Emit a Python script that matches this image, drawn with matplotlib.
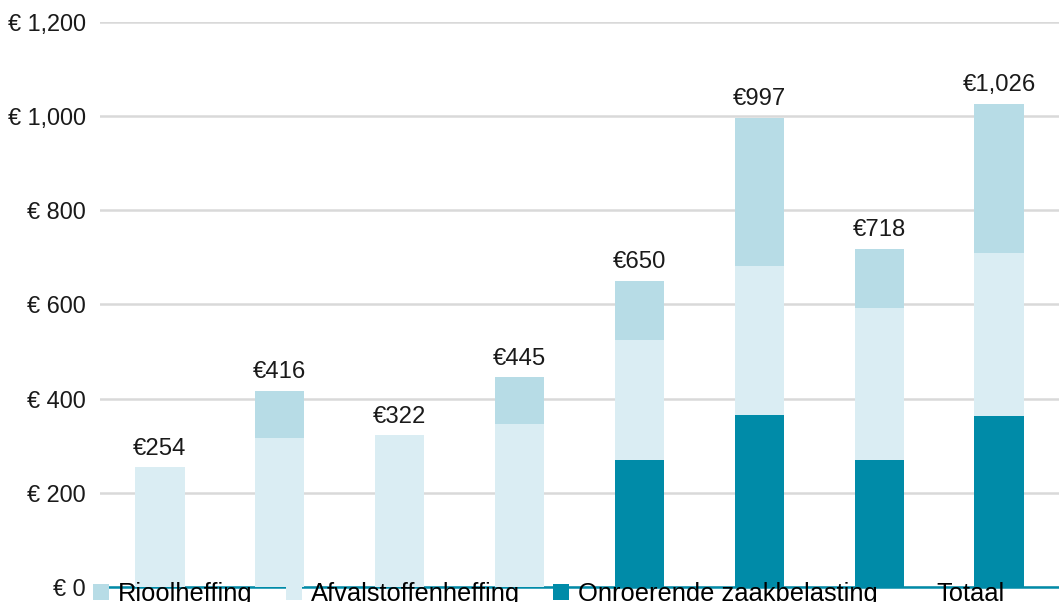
import matplotlib
matplotlib.use("Agg")
import matplotlib.pyplot as plt
from matplotlib.patches import Patch
from matplotlib.ticker import FuncFormatter

plt.rcParams['font.family'] = ['Liberation Sans', 'DejaVu Sans']

categories = ["", "", "", "", "", "", "", ""]
ozb = [0, 0, 0, 0, 270, 365, 270, 363]
afval = [254, 316, 322, 346, 254, 316, 322, 347]
riool = [0, 100, 0, 99, 126, 316, 126, 316]
totals = [254, 416, 322, 445, 650, 997, 718, 1026]
yticks = [0, 200, 400, 600, 800, 1000, 1200]

c_riool = "#b7dce6"
c_afval = "#daedf3"
c_ozb = "#008ba8"

W, H = 1059, 602
fig = plt.figure(figsize=(W / 100, H / 100), dpi=100)
ax = fig.add_axes([100 / W, 15 / H, 1 - 100 / W, (587 - 22) / H])

x = list(range(len(categories)))
bw = 0.41
ax.bar(x, ozb, width=bw, color=c_ozb, zorder=2)
ax.bar(x, afval, width=bw, bottom=ozb, color=c_afval, zorder=2)
bot2 = [a + b for a, b in zip(ozb, afval)]
ax.bar(x, riool, width=bw, bottom=bot2, color=c_riool, zorder=2)

for xi, t in zip(x, totals):
    ax.annotate(f"€{t:,}", (xi, t), xytext=(0, 5.5), textcoords="offset points",
                ha="center", va="bottom", fontsize=17.2, color="#1a1a1a")

ax.set_xlim(-0.5, len(categories) - 0.5)
ax.set_ylim(0, 1200)
ax.set_yticks(yticks)
ax.yaxis.set_major_formatter(FuncFormatter(lambda v, p: f"€ {int(v):,}"))
ax.set_xticks(x)
ax.set_xticklabels(categories)
ax.tick_params(axis="y", length=0, pad=10, labelsize=16.9, labelcolor="#1a1a1a")
ax.tick_params(axis="x", length=0, labelbottom=False)
ax.grid(axis="y", color="#d9d9d9", linewidth=1.8, zorder=0)
ax.set_axisbelow(True)
for s in ["top", "right", "left"]:
    ax.spines[s].set_visible(False)
ax.spines["bottom"].set_color(c_ozb)
ax.spines["bottom"].set_linewidth(1.8)
ax.spines["bottom"].set_zorder(1)

handles = [Patch(facecolor=c_riool), Patch(facecolor=c_afval),
           Patch(facecolor=c_ozb), Patch(facecolor="none", edgecolor="none")]
labels = ["Rioolheffing", "Afvalstoffenheffing", "Onroerende zaakbelasting", "Totaal"]
fig.legend(handles, labels, loc="upper left", bbox_to_anchor=(93 / W, 1 - 582 / H),
           ncol=4, frameon=False, fontsize=18.4, handlelength=0.62, handleheight=0.62,
           handletextpad=0.36, columnspacing=1.3, borderpad=0, borderaxespad=0)

fig.savefig("out.png", dpi=100)
